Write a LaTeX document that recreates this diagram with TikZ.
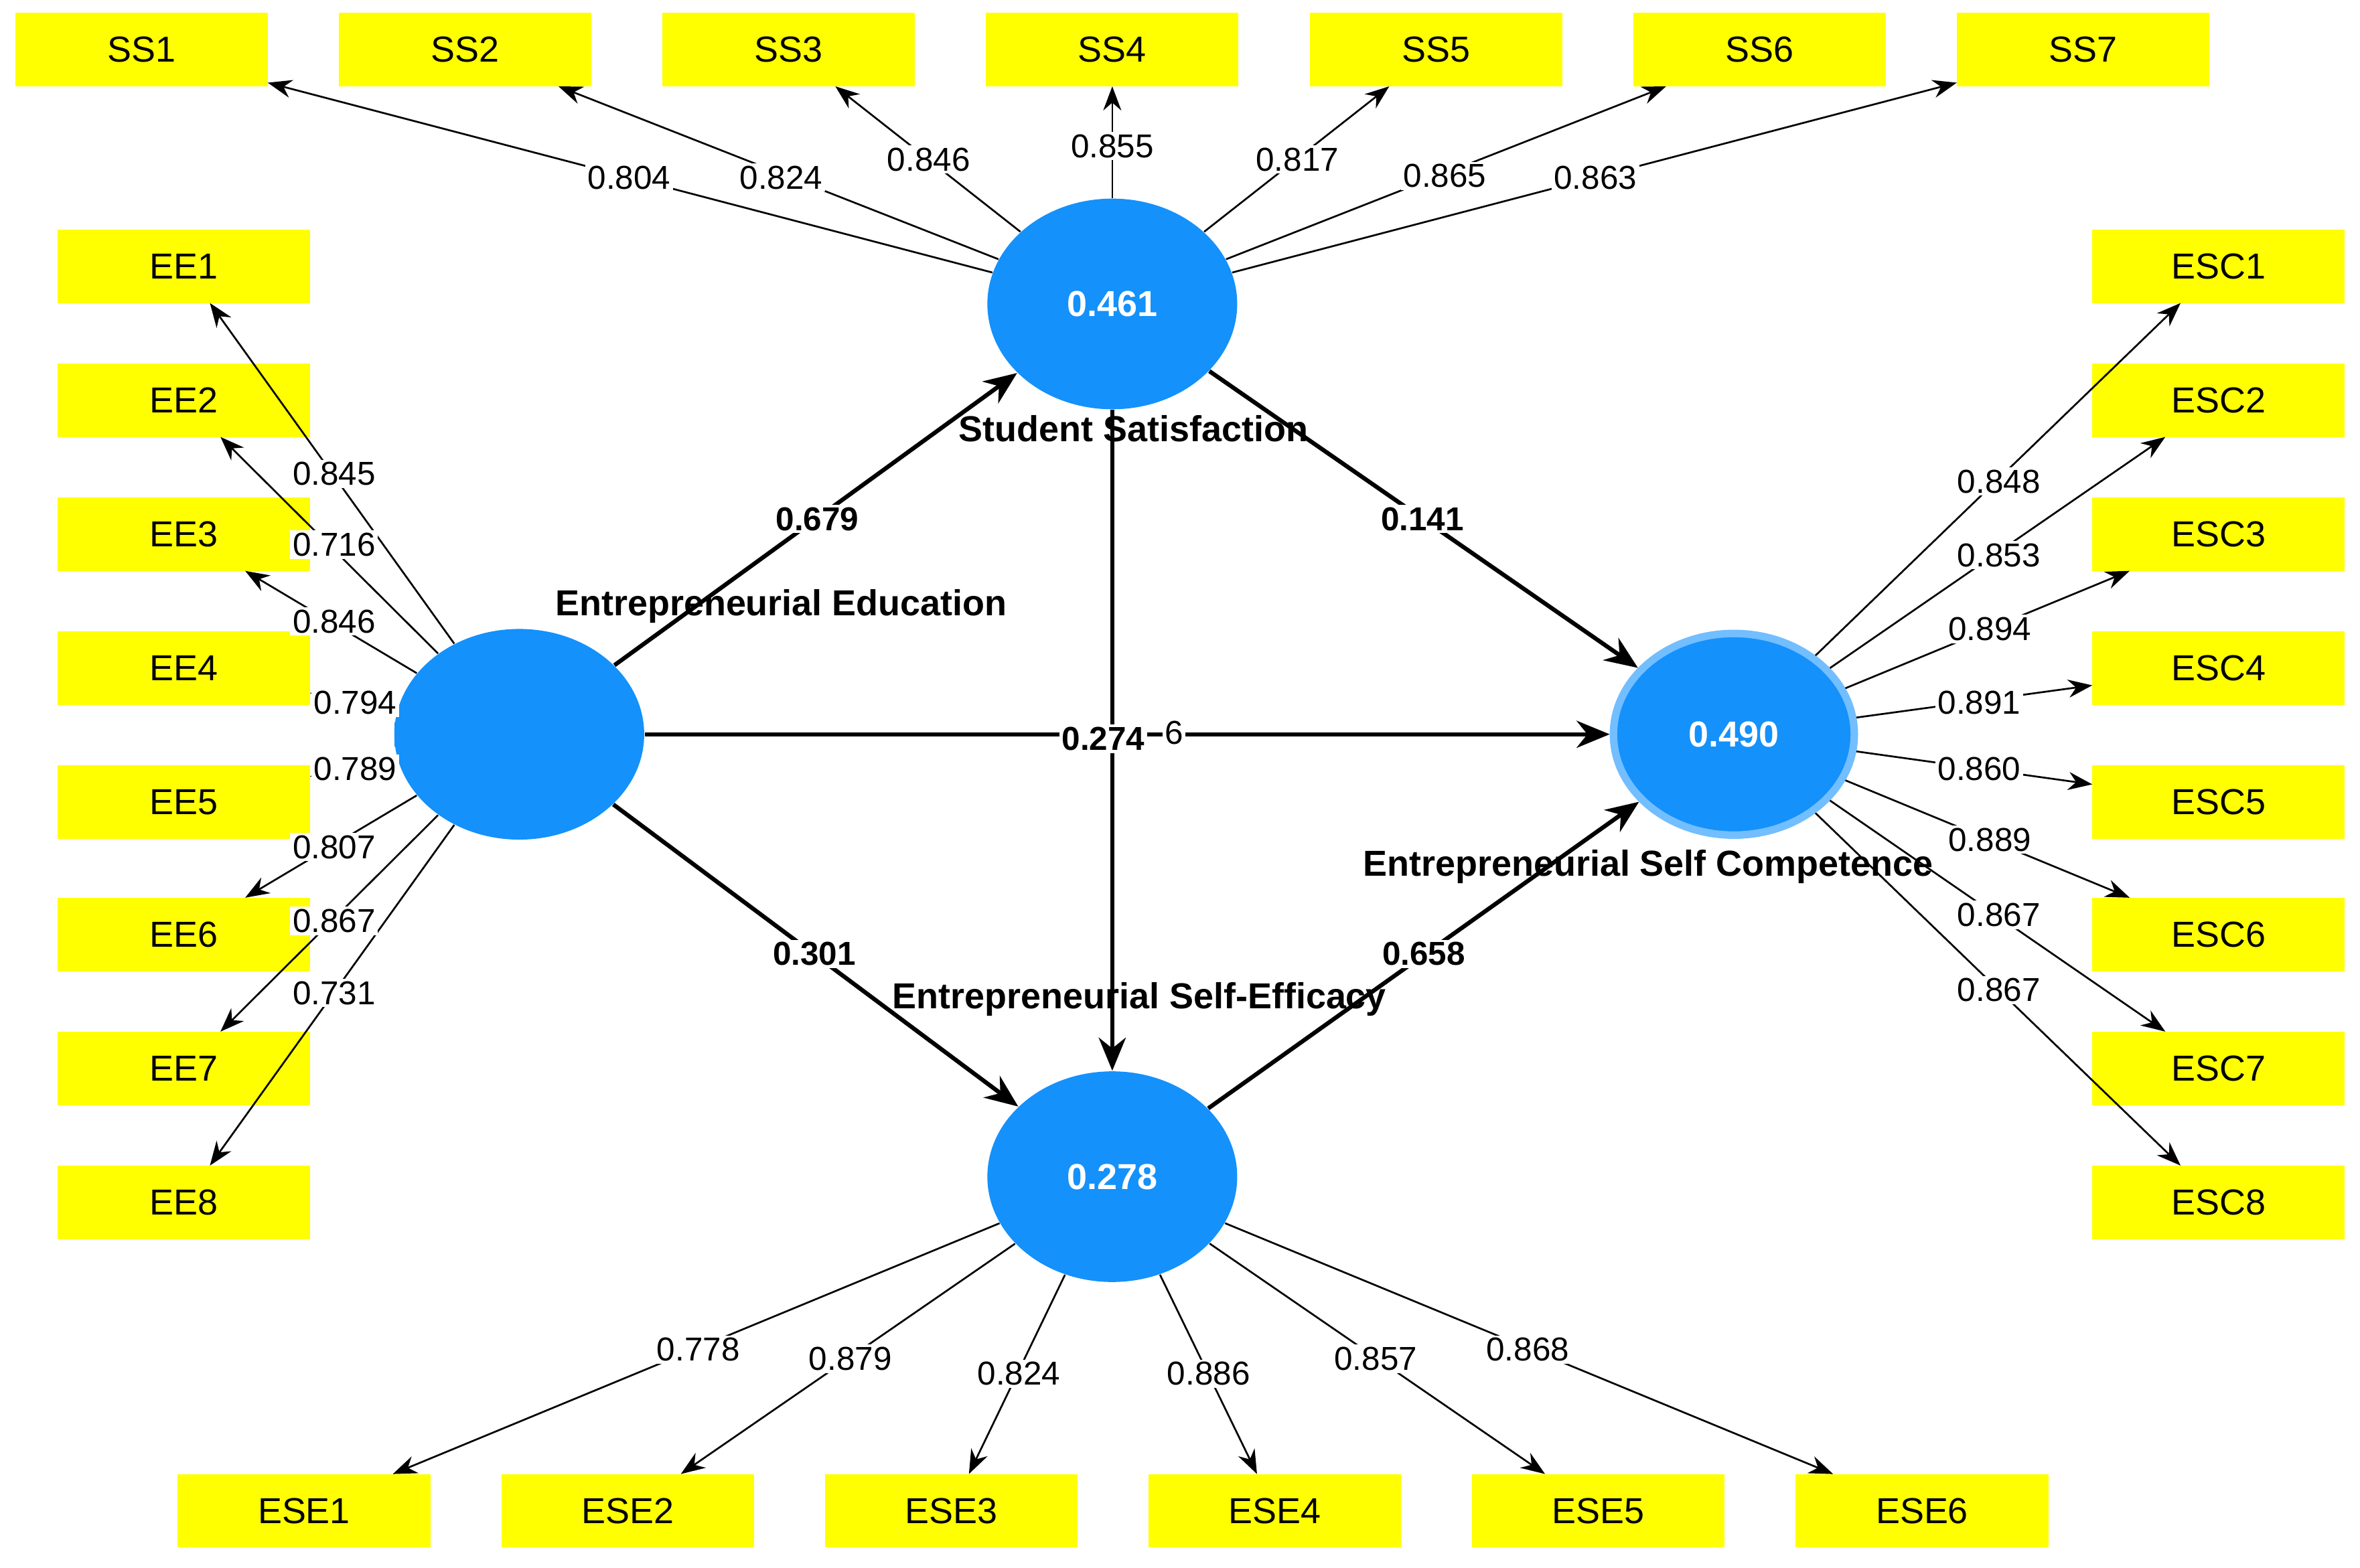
\documentclass[tikz,border=0pt]{standalone}
\usepackage{fontspec}
\setmainfont{Liberation Sans}
\usetikzlibrary{shapes.geometric,arrows.meta}
\definecolor{cblue}{HTML}{1491FB}
\definecolor{ring}{HTML}{72BEFF}
\definecolor{ybox}{HTML}{FFFF00}
\tikzset{
 ind/.style={draw=ybox,fill=ybox,minimum width=83.5pt,minimum height=24pt,inner sep=0pt,font=\fontsize{12}{12}\selectfont},
 lv/.style={ellipse,fill=cblue,minimum width=83pt,minimum height=70pt,inner sep=0pt,text=white,font=\bfseries\fontsize{12}{12}\selectfont},
 ln/.style={-{Stealth[length=8pt,width=6pt]},line width=0.6pt},
 sl/.style={-{Stealth[length=11pt,width=9pt]},line width=1.4pt},
 lab/.style={fill=white,inner sep=0.8pt,font=\fontsize{11}{11}\selectfont},
 blab/.style={fill=white,inner sep=0.8pt,font=\bfseries\fontsize{11}{11}\selectfont},
 cname/.style={inner sep=0pt,font=\bfseries\fontsize{12}{12}\selectfont}
}
\begin{document}
\begin{tikzpicture}[x=0.5pt,y=-0.5pt]
\useasboundingbox[fill=white] (0,0) rectangle (1568,1042);
% indicators
\foreach \i/\x in {1/94,2/309,3/524,4/739,5/954,6/1169,7/1384} \node[ind] (SS\i) at (\x,33) {SS\i};
\foreach \i/\y in {1/177,2/266,3/355,4/444,5/533,6/621,7/710,8/799} {
 \node[ind] (EE\i) at (122,\y) {EE\i};
 \node[ind] (ESC\i) at (1474,\y) {ESC\i};}
\foreach \i/\x in {1/202,2/417,3/632,4/847,5/1062,6/1277} \node[ind] (ESE\i) at (\x,1004) {ESE\i};
% latent
\node[lv] (ss) at (739,202) {0.461};
\fill[cblue] (262,480) rectangle (280,496);
\node[lv] (ee) at (345,488) {};
\node[lv,draw=ring,line width=2.5pt,minimum width=80pt,minimum height=67pt] (esc) at (1152,488) {0.490};
\node[lv] (ese) at (739,782) {0.278};
% indicator lines
\foreach \i in {1,...,7} \draw[ln] (ss) -- (SS\i);
\foreach \i in {1,...,8} \draw[ln] (ee) -- (EE\i);
\foreach \i in {1,...,8} \draw[ln] (esc) -- (ESC\i);
\foreach \i in {1,...,6} \draw[ln] (ese) -- (ESE\i);
% structural
\draw[sl] (ee) -- (ss);
\draw[sl] (ss) -- (esc);
\draw[sl] (ee) -- (esc);
\draw[sl] (ss) -- (ese);
\draw[sl] (ee) -- (ese);
\draw[sl] (ese) -- (esc);
% labels
\foreach \t/\x in {0.804/418,0.824/519} \node[lab] (l\x) at (\x,118) {\t};
\node[lab] (s3) at (617,106) {0.846};
\node[lab] (s4) at (739,97) {0.855};
\node[lab] (s5) at (862,106) {0.817};
\node[lab] (s6) at (960,117) {0.865};
\node[lab] (s7) at (1060,118) {0.863};
\foreach \t/\x/\y in {0.845/222/315,0.716/222/362,0.846/222/413,0.794/236/467,0.789/236/511,0.807/222/563,0.867/222/612,0.731/222/660} \node[lab] (e\y) at (\x,\y) {\t};
\foreach \t/\x/\y in {0.848/1328/320,0.853/1328/369,0.894/1322/418,0.891/1315/467,0.860/1315/511,0.889/1322/558,0.867/1328/608,0.867/1328/658} \node[lab] (c\y) at (\x,\y) {\t};
\foreach \t/\x/\y in {0.778/464/897,0.879/565/903,0.824/677/913,0.886/803/913,0.857/914/903,0.868/1015/897} \node[lab] (b\x) at (\x,\y) {\t};
\node[blab] (p1) at (543,345) {0.679};
\node[blab] (p2) at (945,345) {0.141};
\node[lab] (p3b) at (780,487) {6};
\node[blab] (p3) at (733,491) {0.274};
\node[blab] (p4) at (541,634) {0.301};
\node[blab] (p5) at (946,634) {0.658};
\node[cname] (n1) at (753,285) {Student Satisfaction};
\node[cname] (n2) at (519,403) {Entrepreneurial Education};
\node[cname] (n3) at (1095,576) {Entrepreneurial Self Competence};
\node[cname] (n4) at (757,664) {Entrepreneurial Self-Efficacy};
\end{tikzpicture}
\end{document}
